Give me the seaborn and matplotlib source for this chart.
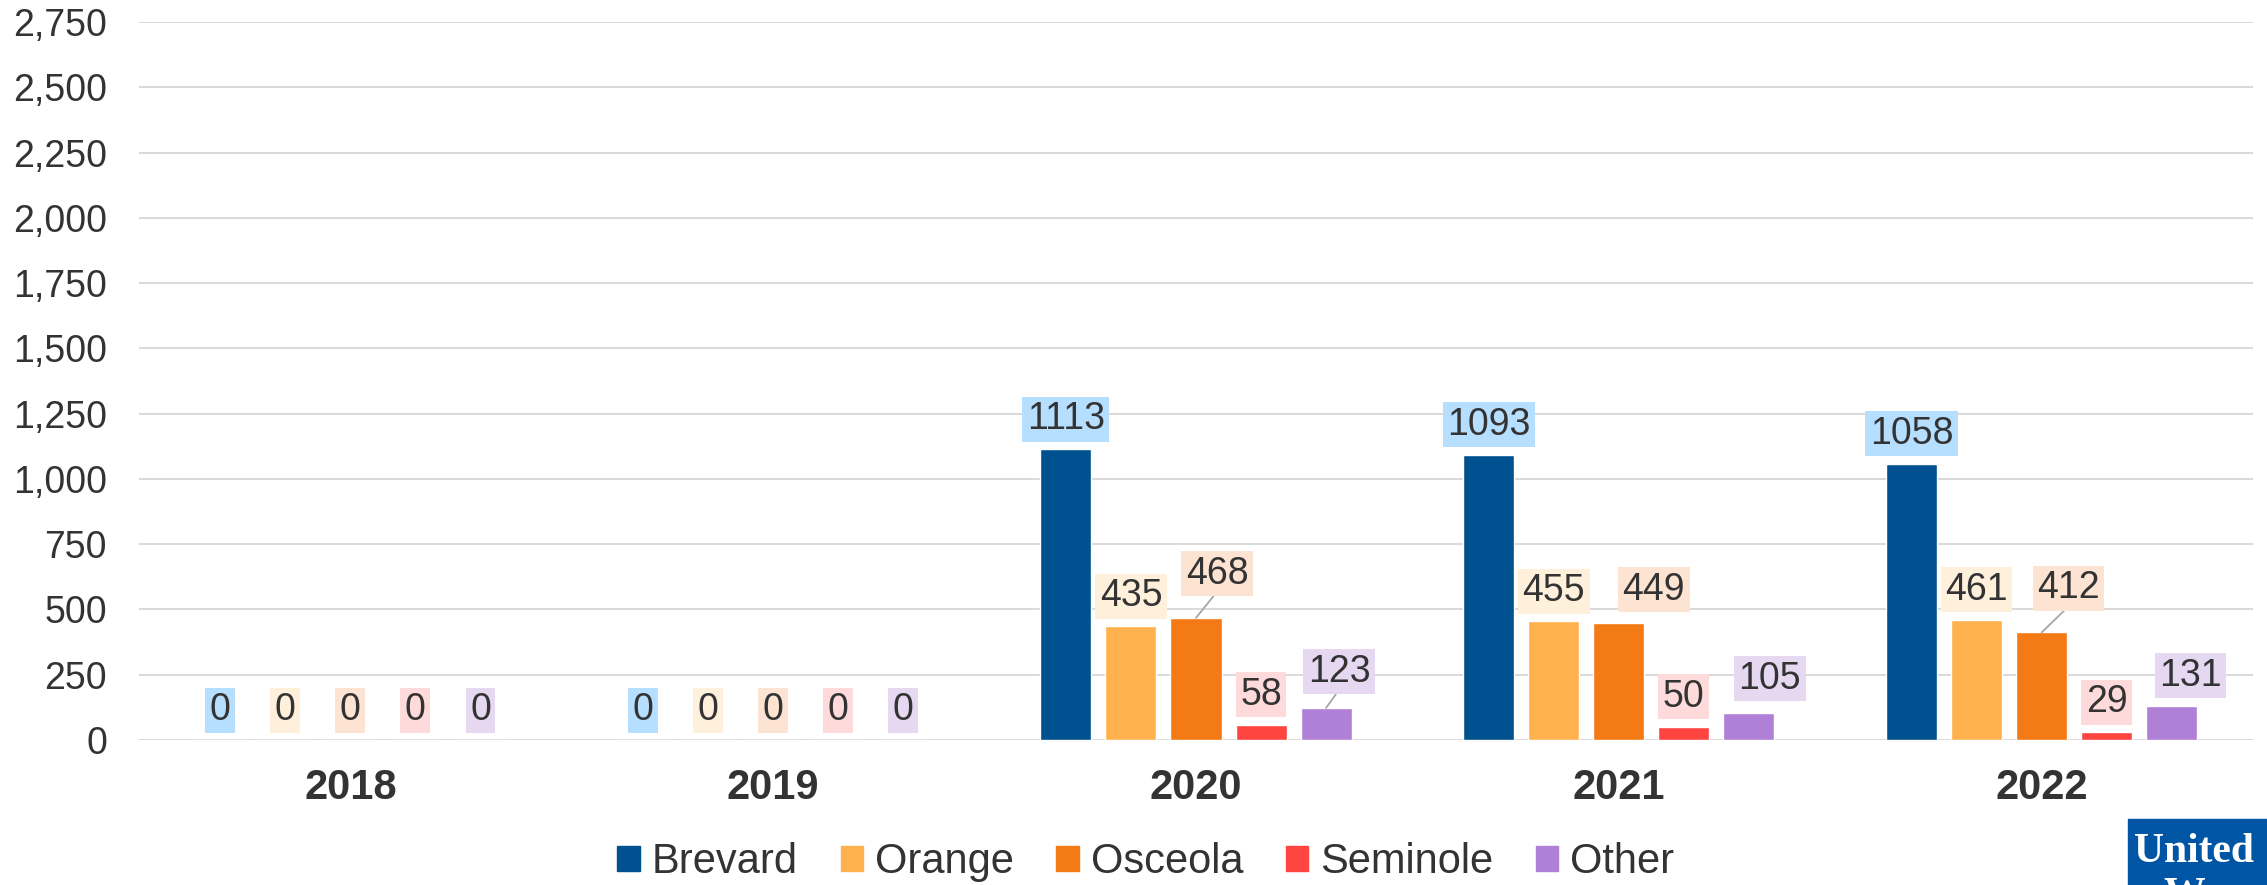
import numpy as np
import pandas as pd
import matplotlib
matplotlib.use("Agg")
import matplotlib.pyplot as plt
from matplotlib.patches import Rectangle
from matplotlib.ticker import FuncFormatter
import seaborn as sns

# ── data ────────────────────────────────────────────────────────────────────
years = ["2018", "2019", "2020", "2021", "2022"]
counties = ["Brevard", "Orange", "Osceola", "Seminole", "Other"]
brevard = [0, 0, 1113, 1093, 1058]
orange = [0, 0, 435, 455, 461]
osceola = [0, 0, 468, 449, 412]
seminole = [0, 0, 58, 50, 29]
other = [0, 0, 123, 105, 131]

# ── styling ─────────────────────────────────────────────────────────────────
bar_colors = ["#00518F", "#FFB14E", "#F47A16", "#FF4540", "#B07FD6"]
box_colors = ["#B5DEFF", "#FFF0DC", "#FCE3D2", "#FFDADA", "#E6D8F1"]
TEXT = "#333333"
GRID = "#D9D9D9"
FS = 27       # tick + value labels
FS_BIG = 30   # year labels + legend

# label nudges (pixels) where the labels were dragged off the bar: dx, extra dy, leader line
nudges = {
    ("2020", "Osceola"): (21, 14, True),
    ("2020", "Other"): (13, 6, True),
    ("2021", "Osceola"): (35, 3, False),
    ("2021", "Other"): (21, 4, False),
    ("2022", "Osceola"): (27, 14, True),
    ("2022", "Other"): (19, 0, False),
}

series = [brevard, orange, osceola, seminole, other]
df = pd.DataFrame({
    "year": np.tile(years, len(counties)),
    "county": np.repeat(counties, len(years)),
    "value": np.concatenate(series),
})

sns.set_theme(style="white")
plt.rcParams["font.family"] = ["Liberation Sans", "DejaVu Sans"]

fig = plt.figure(figsize=(22.67, 8.85), dpi=100)
ax = fig.add_axes([139 / 2267, 1 - 740 / 885, (2253 - 139) / 2267, (740 - 22) / 885])

sns.barplot(data=df, x="year", y="value", hue="county", order=years,
            hue_order=counties, palette=bar_colors, saturation=1,
            width=0.769, gap=0.215, legend=False, ax=ax)

ax.set_ylim(0, 2750)
ax.set_yticks(np.arange(0, 2751, 250))
ax.yaxis.set_major_formatter(FuncFormatter(lambda v, p: f"{int(v):,}"))
ax.grid(axis="y", color=GRID, lw=1.4)
ax.set_axisbelow(True)
for s in ax.spines.values():
    s.set_visible(False)
ax.tick_params(axis="y", length=0, pad=23, labelsize=FS, labelcolor=TEXT)
ax.tick_params(axis="x", length=0, pad=20, labelsize=FS_BIG, labelcolor=TEXT)
for lbl in ax.get_xticklabels():
    lbl.set_fontweight("bold")
ax.set_xlabel("")
ax.set_ylabel("")

# value labels in tinted boxes
for ci, cont in enumerate(ax.containers):
    county = counties[ci]
    for yi, bar in enumerate(cont):
        val = series[ci][yi]
        dx, dy, leader = nudges.get((years[yi], county), (0, 0, False))
        x = bar.get_x() + bar.get_width() / 2
        kw = {}
        if leader:
            kw["arrowprops"] = dict(arrowstyle="-", color="#A6A6A6", lw=1.3,
                                    shrinkA=0, shrinkB=0, relpos=(0.5, 0))
        ax.annotate(f"{val}", xy=(x, val), xytext=(dx, 12 + dy),
                    textcoords="offset pixels", ha="center", va="bottom",
                    fontsize=FS, color=TEXT,
                    bbox=dict(boxstyle="square,pad=0.12", fc=box_colors[ci], ec="none"),
                    **kw)

# legend
handles = [Rectangle((0, 0), 1, 1, color=c) for c in bar_colors]
fig.legend(handles, counties, loc="center", bbox_to_anchor=(1146 / 2267, 1 - 862 / 885),
           ncol=5, frameon=False, fontsize=FS_BIG, labelcolor=TEXT,
           handlelength=0.53, handleheight=0.53, handletextpad=0.29,
           columnspacing=1.03, borderaxespad=0, borderpad=0)

# United Way badge in the corner (cut off by the image edge, as in the source)
fig.patches.append(Rectangle((2128 / 2267, 0), 0.1, 66 / 885,
                             transform=fig.transFigure, color="#0055A5", zorder=5))
fig.text(2134 / 2267, 1 - 862 / 885, "United", color="white", fontsize=30,
         fontweight="bold", family=["Liberation Serif", "DejaVu Serif"],
         ha="left", va="baseline", zorder=6)
fig.text(2204 / 2267, 1 - 906 / 885, "Way", color="white", fontsize=30,
         fontweight="bold", family=["Liberation Serif", "DejaVu Serif"],
         ha="center", va="baseline", zorder=6)

fig.savefig("out.png", dpi=100, facecolor="white")
